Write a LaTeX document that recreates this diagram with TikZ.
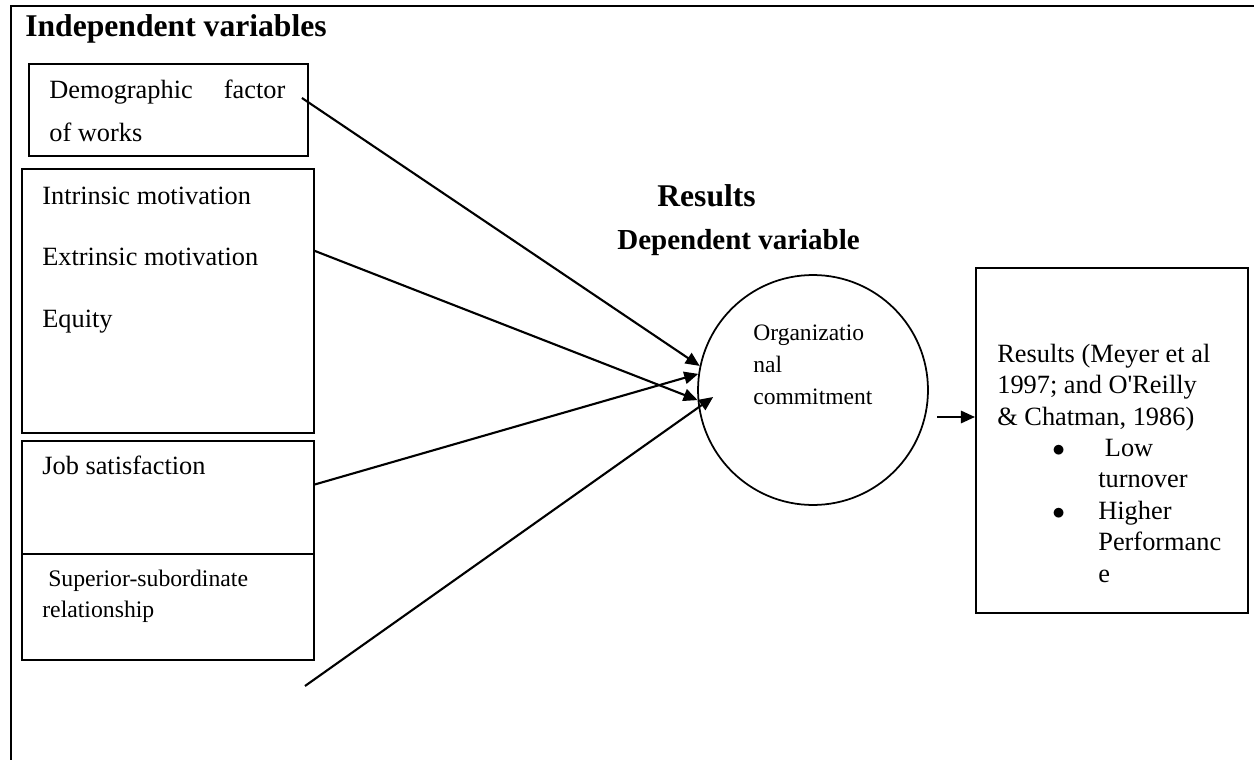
\documentclass[tikz,border=0pt]{standalone}
\usepackage{fontspec}
\setmainfont{Liberation Serif}
\usetikzlibrary{arrows.meta}

\begin{document}
\begin{tikzpicture}[x=0.02cm, y=-0.02cm,
    panel/.style={draw, fill=white, line width=1.1pt, rectangle, anchor=north west, inner sep=0pt},
    txt/.style={inner sep=0pt, anchor=base west, align=left},
    link/.style={-{Triangle[length=8pt, width=7pt]}, line width=1.2pt}]

    \useasboundingbox (0,0) rectangle (1254,760);

    % Frame
    \draw[line width=1.3pt] (1254,6) -- (11,6) -- (11,760);

    % Heading
    \node[txt, font=\bfseries\fontsize{18}{22}\selectfont] (indep) at (25,37) {Independent variables};

    % Independent variables (multi-line texts sit on their last baseline)
    \node[panel, minimum width=5.58cm, minimum height=1.84cm] (demo) at (28,63) {};
    \node[txt, font=\fontsize{15}{24.5}\selectfont] (demotxt) at (49,142)
        {\makebox[4.72cm][l]{Demographic\hfill factor}\\of works};

    \node[panel, minimum width=5.84cm, minimum height=5.28cm] (motiv) at (21,168) {};
    \node[txt, font=\fontsize{15}{35}\selectfont] (motivtxt) at (42,327)
        {Intrinsic motivation\\Extrinsic motivation\\Equity};

    \node[panel, minimum width=5.84cm, minimum height=2.9cm] (jobsat) at (21,440) {};
    \node[txt, font=\fontsize{15}{18}\selectfont] (jobtxt) at (42,474) {Job satisfaction};

    \node[panel, minimum width=5.84cm, minimum height=2.12cm] (superior) at (21,553) {};
    \node[txt, font=\fontsize{13.5}{17.6}\selectfont] (suptxt) at (42,617)
        {\ Superior-subordinate\\relationship};

    % Dependent variable
    \node[txt, font=\bfseries\fontsize{18}{22}\selectfont] (restitle) at (657,207) {Results};
    \node[txt, font=\bfseries\fontsize{16.5}{22}\selectfont] (deptitle) at (617,250) {Dependent variable};
    \node[circle, draw, line width=1pt, minimum size=4.6cm, inner sep=0pt] (org) at (813,390) {};
    \node[txt, font=\fontsize{13.4}{18.1}\selectfont] (orgtxt) at (753,404)
        {Organizatio\\nal\\commitment};

    % Outcomes
    \node[panel, minimum width=5.44cm, minimum height=6.9cm] (res) at (975,267) {};
    \node[txt, font=\fontsize{15}{17.8}\selectfont] (restxt) at (997,425)
        {Results (Meyer et al\\1997; and O\textquotesingle Reilly\\\& Chatman, 1986)};
    \node[txt, font=\fontsize{15}{17.9}\selectfont] (reslist) at (1052,582)
        {\makebox[0.92cm][l]{$\bullet$}\ Low\\
         \hspace*{0.92cm}turnover\\
         \makebox[0.92cm][l]{$\bullet$}Higher\\
         \hspace*{0.92cm}Performanc\\
         \hspace*{0.92cm}e};

    % Arrows into the circle
    \coordinate (tailD) at (305,686);
    \draw[link] ([shift={(-7,-12)}]demo.east) -- (org.168);
    \draw[link] ([shift={(0,-50)}]motiv.east) -- (org.185);
    \draw[link] ([shift={(0,-29)}]jobsat.east) -- (org.172.6);
    \draw[link] (tailD) -- ([shift={(16,7)}]org.west);

    % Arrow to results
    \coordinate (tailE) at (937,417);
    \draw[link] (tailE) -- (tailE -| res.west);

\end{tikzpicture}
\end{document}
